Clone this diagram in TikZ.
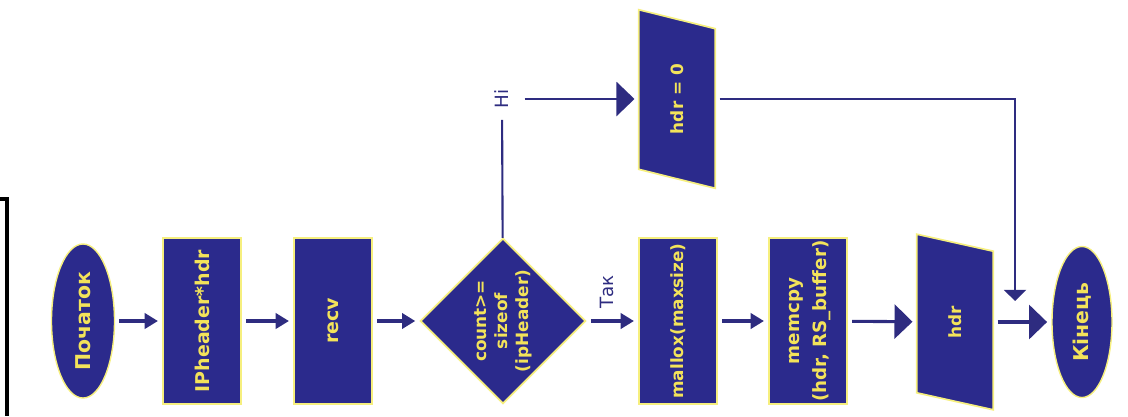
\documentclass[tikz,border=0pt]{standalone}
\usepackage{fontspec}
\setmainfont{DejaVu Sans}
\usepackage{graphicx}
\usetikzlibrary{shapes.geometric,arrows.meta,backgrounds}

\definecolor{boxblue}{HTML}{2B2A8C}
\definecolor{txtyellow}{HTML}{F3E35A}
\definecolor{glow}{HTML}{F6EF7E}
\definecolor{linenavy}{HTML}{2E2C80}

\begin{document}
\begin{tikzpicture}[x=0.025cm,y=-0.025cm,
  block/.style={rectangle,draw=glow,line width=1.2pt,fill=boxblue,text=txtyellow,inner sep=0pt,
    font=\fontsize{13.5}{16}\selectfont\bfseries,minimum width=1.95cm,minimum height=4.15cm},
  term/.style={ellipse,draw=glow,line width=1pt,fill=boxblue,text=txtyellow,inner sep=0pt,
    font=\fontsize{14.5}{17}\selectfont\bfseries},
  test/.style={diamond,draw=glow,line width=1.2pt,fill=boxblue,text=txtyellow,inner sep=0pt,
    font=\fontsize{12}{15}\selectfont\bfseries,minimum width=4.05cm,minimum height=4.1cm},
  io/.style={rectangle,text=txtyellow,inner sep=0pt,font=\fontsize{12}{15}\selectfont\bfseries,minimum width=1.9cm},
  tag/.style={text=linenavy,inner sep=8pt,font=\fontsize{13}{16}\selectfont},
  flow/.style={draw=linenavy,line width=2.2pt,shorten <=3pt,shorten >=3pt,-{Triangle[length=3.3mm,width=3.8mm]}},
  bigflow/.style={flow,-{Triangle[length=4.5mm,width=8.5mm]}},
  thin/.style={draw=linenavy,line width=1.5pt}]
\useasboundingbox (0,0) rectangle (1128,416);

% left edge of the frame
\draw[black,line width=2.5pt] (0,199) -- (7,199) -- (7,416);

\node[term,minimum width=1.575cm,minimum height=3.85cm] at (83,321) (start) {\rotatebox{90}{Початок}};
\node[block] at (202,321) (iphdr) {\rotatebox{90}{IPheader*hdr}};
\node[block] at (333,321) (recv) {\rotatebox{90}{recv}};
\node[test] at (503,321) (cond) {\rotatebox{90}{\begin{tabular}{@{}c@{}}count>=\\sizeof\\(ipHeader)\end{tabular}}};
\node[block,font=\fontsize{12}{14}\selectfont\bfseries] at (678,321) (malloc) {\rotatebox{90}{mallox(maxsize)}};
\node[block,font=\fontsize{13}{19}\selectfont\bfseries] at (808,321) (memcpy) {\rotatebox{90}{\begin{tabular}{@{}c@{}}memcpy\\(hdr, RS\_buffer)\end{tabular}}};
\node[io,minimum height=4.375cm] at (955,322) (hdr) {\rotatebox{90}{hdr}};
\node[term,minimum width=1.5cm,minimum height=3.775cm] at (1082,322) (end) {\rotatebox{90}{Кінець}};
\node[io,minimum height=4.45cm] at (677,99) (hdr0) {\rotatebox{90}{hdr = 0}};

\node[tag] at (502,99) (no) {\rotatebox{90}{Ні}};
\node[tag,inner sep=0pt] at (607,292) (yes) {\rotatebox{90}{Так}};
\coordinate (join) at (1015,301);

\begin{scope}[on background layer]
\foreach \n/\s in {hdr0/0.475cm,hdr/0.425cm}
  \filldraw[draw=glow,line width=1.2pt,fill=boxblue] (\n.north west) -- ([yshift=-\s]\n.north east)
    -- (\n.south east) -- ([yshift=\s]\n.south west) -- cycle;
\end{scope}

\draw[flow] (start) -- (iphdr);
\draw[flow] (iphdr) -- (recv);
\draw[flow] (recv) -- (cond);
\draw[flow] (cond) -- (malloc);
\draw[flow] (malloc) -- (memcpy);
\draw[bigflow] (memcpy) -- (hdr);
\draw[bigflow] (hdr) -- (end);
\draw[thin] (cond) -- (no);
\draw[bigflow,line width=1.6pt] (no) -- (hdr0);
\draw[thin,shorten <=3pt,-{Triangle[length=2.8mm,width=5.5mm]}] (hdr0) -| (join);
\end{tikzpicture}
\end{document}
